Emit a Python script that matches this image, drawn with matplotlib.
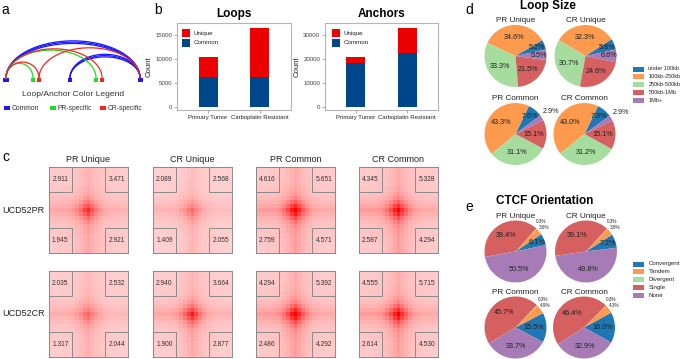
import numpy as np
import matplotlib
matplotlib.use('Agg')
import matplotlib.pyplot as plt
from matplotlib.patches import Rectangle
from matplotlib.colors import LinearSegmentedColormap

plt.rcParams['font.family'] = ['Liberation Sans', 'DejaVu Sans']

W, H = 685, 359

# ---------------- data ----------------
# a: loop / anchor sketch (anchor positions in pixels along the baseline)
anchor_x = [6, 33, 39, 70, 96, 102, 140]
anchor_w = [6, 3.5, 3.5, 4, 3.5, 3.5, 5]
anchor_kind = ['Common', 'PR-specific', 'CR-specific', 'Common', 'PR-specific', 'CR-specific', 'Common']
loop_from = [0, 0, 0, 3, 3, 3, 0, 0, 0, 0, 2]
loop_to = [6, 6, 6, 6, 6, 6, 1, 2, 4, 5, 6]
loop_kind = ['Common'] * 6 + ['PR-specific', 'CR-specific', 'PR-specific', 'CR-specific', 'CR-specific']

# b: loops / anchors counts
groups = ['Primary Tumor', 'Carboplatin Resistant']
loops_common = [6250, 6250]
loops_unique = [4200, 10300]
anchors_common = [18300, 22600]
anchors_unique = [2700, 10500]

# c: APA
apa_cols = ['PR Unique', 'CR Unique', 'PR Common', 'CR Common']
apa_rows = ['UCD52PR', 'UCD52CR']
# corner scores: top-left, top-right, bottom-left, bottom-right
apa_scores = [
    [[2.911, 3.471, 1.945, 2.921], [2.089, 2.568, 1.409, 2.055],
     [4.616, 5.651, 2.759, 4.571], [4.345, 5.328, 2.587, 4.294]],
    [[2.035, 2.532, 1.317, 2.044], [2.940, 3.664, 1.900, 2.877],
     [4.294, 5.392, 2.486, 4.292], [4.555, 5.715, 2.614, 4.530]],
]
# fall-off of the signal away from the centre pixel (stripes, centre dot)
stripe_decay = [1.0, 0.85, 0.7, 0.56, 0.45, 0.36, 0.29, 0.24, 0.2, 0.17, 0.15]
dot_decay = [1.0, 0.7, 0.42, 0.22, 0.1, 0.04, 0.01, 0, 0, 0, 0]
apa_bg = [[0.2, 0.18, 0.2, 0.2], [0.19, 0.19, 0.2, 0.2]]
apa_stripe = [[0.12, 0.09, 0.15, 0.15], [0.1, 0.12, 0.15, 0.15]]
apa_peak = [[0.45, 0.25, 0.62, 0.58], [0.25, 0.52, 0.62, 0.58]]

# d: loop size
size_labels = ['under 100kb', '100kb-250kb', '250kb-500kb', '500kb-1Mb', '1Mb+']
size_pr_unique = [5.2, 34.6, 33.3, 21.5, 5.5]
size_cr_unique = [5.8, 32.3, 30.7, 24.6, 6.6]
size_pr_common = [7.6, 43.3, 31.1, 15.1, 2.9]
size_cr_common = [7.8, 43.0, 31.2, 15.1, 2.9]

# e: CTCF orientation
ctcf_labels = ['Convergent', 'Tandem', 'Divergent', 'Single', 'None']
ctcf_pr_unique = [6.1, 3.6, 0.3, 39.4, 50.5]
ctcf_cr_unique = [7.2, 3.8, 0.3, 39.1, 49.8]
ctcf_pr_common = [15.5, 4.9, 0.3, 45.7, 33.7]
ctcf_cr_common = [16.0, 4.3, 0.3, 46.4, 32.9]

pie_colors = ['#1f78b4', '#fd9a4e', '#a6dc9e', '#d65f5f', '#a77cb6']
kind_color = {'Common': '#1a1aff', 'PR-specific': '#1fdd1f', 'CR-specific': '#ff2020'}
unique_col, common_col = '#ed0000', '#00468b'

fig = plt.figure(figsize=(6.85, 3.59), dpi=100)


def add_ax(x0, y0, x1, y1):
    return fig.add_axes([x0 / W, 1 - y1 / H, (x1 - x0) / W, (y1 - y0) / H])


def txt(x, y, s, **kw):
    kw.setdefault('ha', 'center')
    kw.setdefault('va', 'center')
    fig.text(x / W, 1 - y / H, s, **kw)


def frect(x, y, w, h, color):
    fig.add_artist(Rectangle((x / W, 1 - (y + h) / H), w / W, h / H,
                             transform=fig.transFigure, color=color, lw=0))


# panel letters
for s, x, y in [('a', 5.5, 10), ('b', 157.5, 10), ('c', 5.5, 157), ('d', 469, 10), ('e', 469, 207)]:
    txt(x, y, s, fontsize=10)

# ---------------- a ----------------
ax = add_ax(0, 20, 150, 86)
ax.set_xlim(0, 150)
ax.set_ylim(86, 20)
ax.axis('off')
seen = {}
t = np.linspace(0, np.pi, 120)
for a, b, k in zip(loop_from, loop_to, loop_kind):
    n = seen.get((a, b), 0)
    seen[(a, b)] = n + 1
    xa, xb = anchor_x[a], anchor_x[b]
    span = xb - xa
    h = 9 + 0.21 * span - 1.3 * n
    ax.plot((xa + xb) / 2 + span / 2 * np.cos(t), 78 - h * np.sin(t),
            color=kind_color[k], lw=0.9)
for x, w, k in zip(anchor_x, anchor_w, anchor_kind):
    ax.add_patch(Rectangle((x - w / 2, 78), w, 4, color=kind_color[k], lw=0))

txt(73, 95, 'Loop/Anchor Color Legend', fontsize=6.1, color='#333333')
for x, k in zip([4, 49.5, 100], ['Common', 'PR-specific', 'CR-specific']):
    frect(x, 106, 6, 4, kind_color[k])
    txt(x + 8, 108, k, fontsize=4.9, ha='left', color='#333333')

# ---------------- b ----------------
def bar_panel(rect, common, unique, ylim, yticks, title):
    ax = add_ax(*rect)
    xs = np.arange(len(groups))
    ax.bar(xs, common, width=0.37, color=common_col)
    ax.bar(xs, unique, width=0.37, bottom=common, color=unique_col)
    ax.set_xlim(-0.6, 1.6)
    ax.set_ylim(*ylim)
    ax.set_xticks(xs)
    ax.set_xticklabels(groups, fontsize=4.3, color='#222222')
    ax.set_yticks(yticks)
    ax.set_yticklabels([str(v) for v in yticks], fontsize=4.4, color='#444444')
    ax.tick_params(length=2, width=0.5, color='#888888', pad=1.5)
    for sp in ax.spines.values():
        sp.set_color('#b5b5b5')
        sp.set_linewidth(0.8)
    ax.set_ylabel('Count', fontsize=5.6, color='#222222', labelpad=2)
    ax.set_title(title, fontsize=8.5, fontweight='bold', pad=4)
    return ax


bar_panel((177, 23, 291, 110), loops_common, loops_unique, (-625, 17500),
          [0, 5000, 10000, 15000], 'Loops')
bar_panel((325, 23, 438, 110), anchors_common, anchors_unique, (-1250, 35000),
          [0, 10000, 20000, 30000], 'Anchors')
for x0 in [182, 332]:
    frect(x0, 29, 8, 8, unique_col)
    frect(x0, 38.5, 8, 8, common_col)
    txt(x0 + 11.5, 33, 'Unique', fontsize=4.5, ha='left', color='#222222')
    txt(x0 + 11.5, 42.5, 'Common', fontsize=4.5, ha='left', color='#222222')

# ---------------- c ----------------
cmap = LinearSegmentedColormap.from_list('apa', ['#ffffff', '#ff0000'])
ds = np.array(stripe_decay[::-1] + stripe_decay[1:])
dd = np.array(dot_decay[::-1] + dot_decay[1:])
idx = np.arange(len(ds))
mid = len(ds) // 2
hw = np.where(idx < mid, 1.25, 0.85)
vw = np.where(idx > mid, 1.25, 0.85)
col_x = [49, 153, 256, 359]
row_y = [167, 271]
for c, name in enumerate(apa_cols):
    txt(col_x[c] + 39.5, 159, name, fontsize=6.5, color='#222222')
for r, rname in enumerate(apa_rows):
    txt(2, row_y[r] + 43, rname, fontsize=6.5, ha='left', color='#222222')
    for c in range(4):
        m = (apa_bg[r][c]
             + apa_stripe[r][c] * (ds[:, None] ** 2 * hw[None, :] + ds[None, :] ** 2 * vw[:, None])
             + apa_peak[r][c] * np.outer(dd, dd))
        ax = add_ax(col_x[c], row_y[r], col_x[c] + 79, row_y[r] + 86)
        ax.imshow(m, cmap=cmap, vmin=0, vmax=1, aspect='auto', extent=(0, 21, 21, 0),
                  interpolation='nearest')
        ax.set_xticks([])
        ax.set_yticks([])
        for sp in ax.spines.values():
            sp.set_color('#8a8a8a')
            sp.set_linewidth(0.7)
        for (bx, by), v in zip([(0, 0), (15, 0), (0, 15), (15, 15)], apa_scores[r][c]):
            ax.add_patch(Rectangle((bx, by), 6, 6, fill=False, ec='#8a8a8a', lw=0.7))
            ax.text(bx + 3, by + 3, f'{v:.3f}', fontsize=4.8, ha='center', va='center',
                    color='#333333')

# ---------------- d / e ----------------
def pie(cx, cy, vals, start, small_cut, small_r, small_fs, r=31):
    half = 45
    ax = add_ax(cx - half, cy - half, cx + half, cy + half)
    wedges, _ = ax.pie(vals, colors=pie_colors, startangle=start, counterclock=True,
                       radius=1, wedgeprops=dict(linewidth=0))
    lim = half / r
    ax.set_xlim(-lim, lim)
    ax.set_ylim(-lim, lim)
    ax.set_aspect('equal')
    ax.axis('off')
    last_small = None
    for w, v in zip(wedges, vals):
        a = np.deg2rad((w.theta1 + w.theta2) / 2)
        if v < small_cut:
            rr, fs = small_r, small_fs
        elif v < 9:
            rr, fs = 0.74, 5.2
        else:
            rr, fs = 0.6, 5.2
        x, y = rr * np.cos(a), rr * np.sin(a)
        if v < small_cut:
            if last_small is not None and y - last_small[1] < 0.2:
                x, y = last_small[0] - 0.08, last_small[1] + 0.2
            last_small = (x, y)
        ax.text(x, y, f'{v:.1f}%', fontsize=fs, ha='center', va='center', color='#222222')


txt(548, 6.5, 'Loop Size', fontsize=8.5, fontweight='bold')
for cx, cy, title, vals, sa in [
        (515.5, 56, 'PR Unique', size_pr_unique, 12),
        (585.5, 56, 'CR Unique', size_cr_unique, 12),
        (515.5, 134, 'PR Common', size_pr_common, 37),
        (584.5, 134, 'CR Common', size_cr_common, 36)]:
    txt(cx, cy - 35, title, fontsize=5.9, color='#222222')
    pie(cx, cy, vals, sa, 4, 1.35, 5.2)

txt(545, 201.5, 'CTCF Orientation', fontsize=8.5, fontweight='bold')
for cx, cy, title, vals, sa in [
        (515.5, 251.5, 'PR Unique', ctcf_pr_unique, 12),
        (586, 251.5, 'CR Unique', ctcf_cr_unique, 7),
        (515.5, 327.5, 'PR Common', ctcf_pr_common, -28),
        (584, 327.5, 'CR Common', ctcf_cr_common, -29)]:
    txt(cx, cy - 35, title, fontsize=5.9, color='#222222')
    pie(cx, cy, vals, sa, 5, 1.2, 3.3)

for y0, labels, fs in [(69, size_labels, 4.0), (264, ctcf_labels, 4.4)]:
    for i, lab in enumerate(labels):
        y = y0 + i * 7.9
        frect(633, y - 2.5, 11, 5, pie_colors[i])
        txt(648.5, y, lab, fontsize=fs, ha='left', color='#222222')

fig.savefig('out.png', dpi=100)
